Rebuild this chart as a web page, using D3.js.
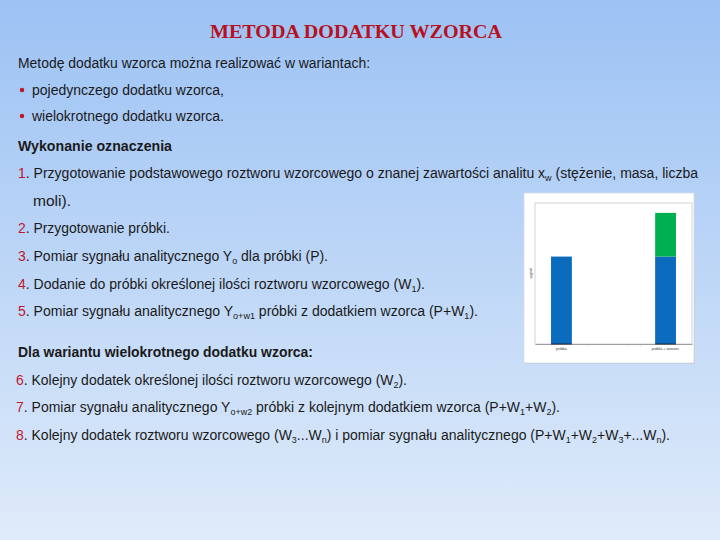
<!DOCTYPE html>
<html><head><meta charset="utf-8">
<script src="https://cdn.jsdelivr.net/npm/d3@7"></script>
<style>body{margin:0;overflow:hidden;}</style>
</head><body>
<svg id="c" width="720" height="540"></svg>
<script>
// ---- data ----
const categories = ["próbka", "próbka + wzorzec"];
const sampleSignal = [0.62, 0.62];      // Y0 (blue)
const standardSignal = [0, 0.31];       // added standard (green)
const yLabel = "sygnał";
const title = "METODA DODATKU WZORCA";
// text content: segments [text, kind]  kind: n normal, s subscript, r red number
const introLines = [
  [["Metodę dodatku wzorca można realizować w wariantach:","n"]]
];
const bulletLines = [
  [["pojedynczego dodatku wzorca,","n"]],
  [["wielokrotnego dodatku wzorca.","n"]]
];
const heading1 = "Wykonanie oznaczenia";
const heading2 = "Dla wariantu wielokrotnego dodatku wzorca:";
const steps = [
  [["1","r"],[". Przygotowanie podstawowego roztworu wzorcowego o znanej zawartości analitu x","n"],["w","s"],[" (stężenie, masa, liczba","n"]],
  [["moli).","n"]],
  [["2","r"],[". Przygotowanie próbki.","n"]],
  [["3","r"],[". Pomiar sygnału analitycznego Y","n"],["o","s"],[" dla próbki (P).","n"]],
  [["4","r"],[". Dodanie do próbki określonej ilości roztworu wzorcowego (W","n"],["1","s"],[").","n"]],
  [["5","r"],[". Pomiar sygnału analitycznego Y","n"],["o+w1","s"],[" próbki z dodatkiem wzorca (P+W","n"],["1","s"],[").","n"]]
];
const steps2 = [
  [["6","r"],[". Kolejny dodatek określonej ilości roztworu wzorcowego (W","n"],["2","s"],[").","n"]],
  [["7","r"],[". Pomiar sygnału analitycznego Y","n"],["o+w2","s"],[" próbki z kolejnym dodatkiem wzorca (P+W","n"],["1","s"],["+W","n"],["2","s"],[").","n"]],
  [["8","r"],[". Kolejny dodatek roztworu wzorcowego (W","n"],["3","s"],["...W","n"],["n","s"],[") i pomiar sygnału analitycznego (P+W","n"],["1","s"],["+W","n"],["2","s"],["+W","n"],["3","s"],["+...W","n"],["n","s"],[").","n"]]
];

// ---- drawing ----
const svg = d3.select("#c");
const defs = svg.append("defs");
const g = defs.append("linearGradient").attr("id","bg").attr("x1",0).attr("y1",0).attr("x2",0).attr("y2",1);
g.append("stop").attr("offset","0%").attr("stop-color","#9cc2f4");
g.append("stop").attr("offset","100%").attr("stop-color","#dfebfa");
svg.append("rect").attr("width",720).attr("height",540).attr("fill","url(#bg)");

const RED = "#c0182c", INK = "#1a1a1a";
const FONT = "'Liberation Sans', Arial, sans-serif";

svg.append("text").attr("x",210).attr("y",38)
  .attr("font-family","'Liberation Serif', 'Times New Roman', serif")
  .attr("font-weight","bold").attr("font-size",18).attr("fill","#b8101e")
  .attr("textLength",292).attr("lengthAdjust","spacingAndGlyphs")
  .text(title);

function writeLine(segs, x, y, endX, opts={}) {
  const t = svg.append("text").attr("x",x).attr("y",y)
    .attr("font-family",FONT).attr("font-size",opts.size||14)
    .attr("font-weight",opts.bold?"bold":"normal").attr("fill",INK);
  let sub = false;
  segs.forEach(([txt,kind]) => {
    const ts = t.append("tspan").text(txt);
    if (kind === "r") ts.attr("fill",RED);
    if (kind === "s") {
      ts.attr("font-size",9).attr("dy",sub?0:3); sub = true;
    } else if (sub) { ts.attr("dy",-3); sub = false; }
  });
  if (endX) t.attr("textLength",endX - x).attr("lengthAdjust","spacingAndGlyphs");
  return t;
}

writeLine(introLines[0], 18, 68, 370);
const bulletY = [95, 121];
bulletLines.forEach((l,i) => {
  svg.append("path").attr("d", d3.symbol(d3.symbolCircle, 16)())
    .attr("transform",`translate(22,${bulletY[i]-5})`).attr("fill",RED);
  writeLine(l, 32, bulletY[i], 224);
});
writeLine([[heading1,"n"]], 18, 151, 172, {bold:true});
const stepY = [178, 206, 233, 261, 289, 316];
const stepX = [18, 33, 18, 18, 18, 18];
const stepEnd = [698, 71, 170, 328, 425, 478];
steps.forEach((l,i) => writeLine(l, stepX[i], stepY[i], stepEnd[i]));
writeLine([[heading2,"n"]], 18, 357, 313, {bold:true});
const step2Y = [385, 412, 440];
const step2End = [407, 560, 670];
steps2.forEach((l,i) => writeLine(l, 16, step2Y[i], step2End[i]));

// ---- chart ----
const panel = svg.append("g");
panel.append("rect").attr("x",525).attr("y",194).attr("width",170).attr("height",170).attr("fill","#b9c9dc");
panel.append("rect").attr("x",524).attr("y",193).attr("width",170).attr("height",170).attr("fill","#ffffff").attr("stroke","#d6dde6").attr("stroke-width",0.8);

const plot = {left:535, right:692, top:203, bottom:344};
panel.append("rect").attr("x",plot.left).attr("y",plot.top).attr("width",plot.right-plot.left).attr("height",plot.bottom-plot.top)
  .attr("fill","none").attr("stroke","#c8c8c8").attr("stroke-width",0.8);

const x = d3.scaleBand().domain(categories).range([plot.left, plot.right]).paddingInner(0.8).paddingOuter(0.154);
const y = d3.scaleLinear().domain([0,1]).range([plot.bottom, plot.top]);

const stackData = categories.map((c,i) => ({cat:c, sample:sampleSignal[i], standard:standardSignal[i]}));
const stack = d3.stack().keys(["sample","standard"])(stackData);
const colors = {sample:"#0b6cbe", standard:"#00b050"};
panel.selectAll("g.s").data(stack).join("g").attr("fill",d=>colors[d.key])
  .selectAll("rect").data(d=>d).join("rect")
  .attr("x",d=>x(d.data.cat)).attr("width",x.bandwidth())
  .attr("y",d=>y(d[1])).attr("height",d=>y(d[0])-y(d[1]));

const xa = panel.append("g").attr("transform",`translate(0,${plot.bottom})`)
  .call(d3.axisBottom(x).tickSize(0).tickPadding(4));
xa.select(".domain").attr("stroke","#8a8a8a").attr("stroke-width",0.8);
xa.selectAll("text").attr("font-size",3.5).attr("font-family",FONT).attr("fill","#333");
panel.selectAll("line.base").data(categories).join("line")
  .attr("x1",d=>x(d)).attr("x2",d=>x(d)+x.bandwidth())
  .attr("y1",plot.bottom).attr("y2",plot.bottom).attr("stroke","#1a2a4a").attr("stroke-width",1);
panel.selectAll("line.mt").data([0.34,0.59,0.67]).join("line")
  .attr("x1",d=>plot.left+d*(plot.right-plot.left)).attr("x2",d=>plot.left+d*(plot.right-plot.left))
  .attr("y1",plot.bottom).attr("y2",plot.bottom+2).attr("stroke","#aaa").attr("stroke-width",0.6);

panel.append("text").attr("transform",`translate(532,${(plot.top+plot.bottom)/2}) rotate(-90)`)
  .attr("text-anchor","middle").attr("font-size",3.5).attr("font-family",FONT).attr("fill","#333").text(yLabel);
</script>
</body></html>
